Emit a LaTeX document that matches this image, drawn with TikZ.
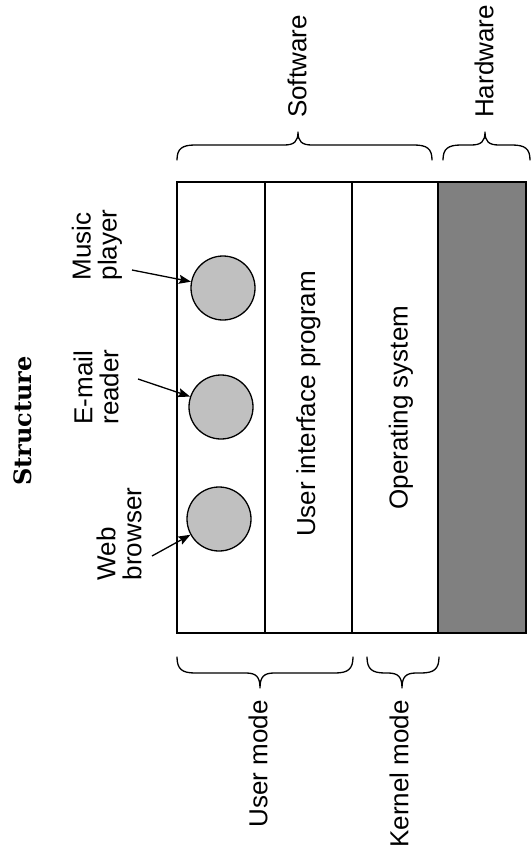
\documentclass[tikz,border=0pt]{standalone}
\usepackage{fontspec}
\setmainfont{Liberation Sans}
\newfontfamily\titlefont{DejaVu Serif}
\usetikzlibrary{arrows.meta}
\newcommand\mybrace[6]{% a b m y0 y1 y2
  \draw[bracestyle] (#1,#4) .. controls (#1,{#4+0.75*(#5-#4)}) and ({#1+5},#5) .. ({#1+18},#5)
    -- ({#3-14},#5) .. controls ({#3-4},#5) and (#3,{#5+0.25*(#6-#5)}) .. (#3,#6)
    .. controls (#3,{#5+0.25*(#6-#5)}) and ({#3+4},#5) .. ({#3+14},#5)
    -- ({#2-18},#5) .. controls ({#2-5},#5) and (#2,{#4+0.75*(#5-#4)}) .. (#2,#4);}
\begin{document}
\begin{tikzpicture}[x=1pt,y=-1pt,
  col/.style={draw, line width=1.5pt, rectangle, inner sep=0pt, minimum height=451pt},
  app/.style={draw, line width=1.3pt, circle, fill=appgray, minimum size=64pt, inner sep=0pt},
  lbl/.style={font=\fontsize{26}{26}\selectfont, inner sep=0pt, rotate=90},
  arr/.style={line width=1.3pt, -{Stealth[length=12pt,width=9pt,inset=2pt]}},
  bracestyle/.style={line width=1.3pt, line cap=round, line join=round}]
\definecolor{appgray}{HTML}{C0C0C0}
\definecolor{hwgray}{HTML}{808080}
\useasboundingbox (0,0) rectangle (532,862);
% columns
\node[col, minimum width=88pt] (c1) at (221,407.5) {};
\node[col, minimum width=87pt] (c2) at (308.5,407.5) {};
\node[col, minimum width=86pt] (c3) at (395,407.5) {};
\node[col, minimum width=88pt, fill=hwgray] (c4) at (482,407.5) {};
\node[lbl] (uip) at (308.5,404) {User interface program};
\node[lbl] (os) at (401,407.5) {Operating system};
% applications
\node[app] (music) at (223,288) {};
\node[app] (email) at (221,407) {};
\node[app] (web) at (219,519) {};
% labels
\node[lbl, align=left] (mlbl) at (97,245) {Music\\player};
\node[lbl, align=left] (elbl) at (96,387) {E-mail\\reader};
\node[lbl, align=left] (wlbl) at (119,534) {Web\\browser};
\coordinate (ms) at (132,270);
\coordinate (es) at (138,379);
\coordinate (ws) at (152,556);
\draw[arr] (ms) -- (music);
\draw[arr] (es) -- (email);
\draw[arr] (ws) -- (web);
% title
\node[font=\titlefont\bfseries\fontsize{24}{24}\selectfont, rotate=90, inner sep=0pt] (title) at (23,421) {Structure};
% braces
\mybrace{177}{432}{298}{160}{145}{132}
\mybrace{443}{530}{485}{160}{145}{132}
\mybrace{177}{353}{260}{657}{673}{688}
\mybrace{367}{439}{402}{657}{673}{688}
\node[lbl, anchor=west] (sw) at (297,118) {Software};
\node[lbl, anchor=west] (hw) at (484,118) {Hardware};
\node[lbl, anchor=east] (um) at (258,700) {User mode};
\node[lbl, anchor=east] (km) at (399,700) {Kernel mode};
\end{tikzpicture}
\end{document}
